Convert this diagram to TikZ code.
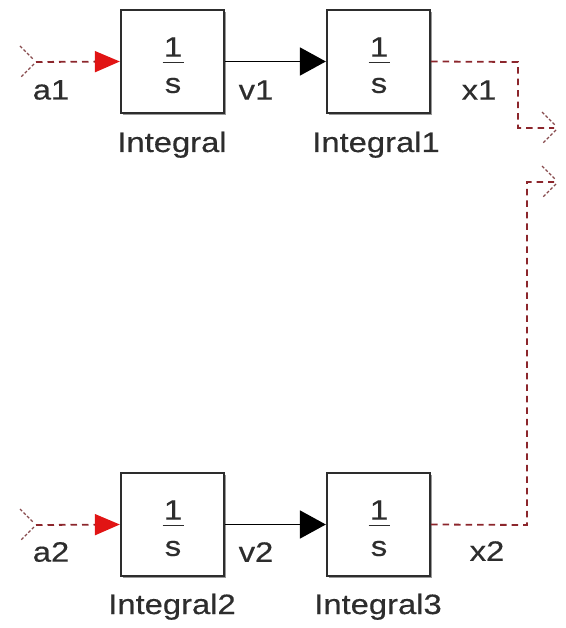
\documentclass[tikz,border=0pt]{standalone}
\usepackage{fontspec}
\setmainfont{Liberation Sans}
\newfontfamily\labelfont[FakeBold=0.4]{Liberation Sans}
\usetikzlibrary{arrows.meta,shadows}
\definecolor{sigred}{RGB}{140,38,44}
\definecolor{tipred}{RGB}{225,20,20}
\definecolor{ink}{RGB}{45,45,45}
\newcommand\wtxt[1]{\scalebox{1.17}[1]{#1}}

\begin{document}
\begin{tikzpicture}[x=1pt,y=-1pt,
  intblock/.style={draw=ink, line width=2.3pt, fill=white,
    minimum width=103pt, minimum height=103pt, inner sep=0pt,
    drop shadow={shadow xshift=1.5pt, shadow yshift=-2pt, fill=gray!80, opacity=1}},
  lbl/.style={text=ink, font=\labelfont\fontsize{28}{32}\selectfont, inner sep=0pt},
  wire/.style={line width=1.8pt, draw=black, -{Triangle[length=26pt,width=28pt]}},
  openwire/.style={line width=1.8pt, draw=sigred, dash pattern=on 6.5pt off 5pt},
  intip/.style={-{Triangle[length=25pt,width=21pt,color=tipred]}},
  chev/.style={line width=1.3pt, draw=sigred!60!gray, dash pattern=on 3pt off 2pt},
  fracbar/.style={line width=1.8pt, draw=ink}]

\useasboundingbox (0,0) rectangle (565,628);

% integrator blocks
\node[intblock] (i0) at (172.5,61.5) {};
\node[intblock] (i1) at (378.5,61.5) {};
\node[intblock] (i2) at (172.5,524.5) {};
\node[intblock] (i3) at (378.5,524.5) {};

% 1/s inside each block
\foreach \b in {i0,i1,i2,i3} {
  \node[lbl] (\b-num) at ([shift={(0.5,-14.5)}]\b.center) {\wtxt{1}};
  \draw[fracbar] ([shift={(-10,1)}]\b.center) -- ([shift={(11,1)}]\b.center);
  \node[lbl] (\b-den) at ([shift={(0.5,24)}]\b.center) {\wtxt{s}};
}

% block names
\node[lbl, anchor=base] (n0) at (172,152) {\wtxt{Integral}};
\node[lbl, anchor=base] (n1) at (376,152) {\wtxt{Integral1}};
\node[lbl, anchor=base] (n2) at (172,614) {\wtxt{Integral2}};
\node[lbl, anchor=base] (n3) at (378,614) {\wtxt{Integral3}};

% unconnected line ends
\coordinate (in0) at (36,62);
\coordinate (in2) at (36,525);
\coordinate (out1) at (558,128);
\coordinate (out3) at (558,182);
\coordinate (c1) at (518,62);
\coordinate (c3) at (527,525);

% chevrons marking open ends
\foreach \p in {in0,in2,out1,out3} {
  \draw[chev] ([shift={(-16,-16)}]\p) -- ([shift={(-2,-2)}]\p);
  \draw[chev] ([shift={(-2,2)}]\p) -- ([shift={(-16,16)}]\p);
}

% signals
\draw[openwire, intip] (in0) -- (i0.west);
\draw[openwire, intip] (in2) -- (i2.west);
\draw[wire] (i0.east) -- (i1.west);
\draw[wire] (i2.east) -- (i3.west);
\draw[openwire] (i1.east) -- (c1) |- ([xshift=-4pt]out1);
\draw[openwire] (i3.east) -- (c3) |- ([xshift=-4pt]out3);

% signal names
\node[lbl] (a1) at (51,90) {\wtxt{a1}};
\node[lbl] (v1) at (256,90) {\wtxt{v1}};
\node[lbl] (x1) at (479,90) {\wtxt{x1}};
\node[lbl] (a2) at (51,552) {\wtxt{a2}};
\node[lbl] (v2) at (256,552) {\wtxt{v2}};
\node[lbl] (x2) at (487,551) {\wtxt{x2}};
\end{tikzpicture}
\end{document}
